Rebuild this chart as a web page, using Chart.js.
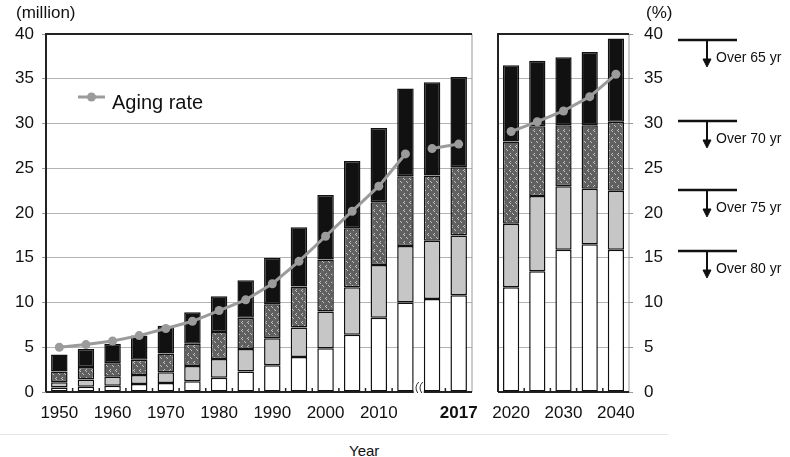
<!DOCTYPE html>
<html>
<head>
<meta charset="utf-8">
<script src="https://cdn.jsdelivr.net/npm/chart.js@4.4.1/dist/chart.umd.min.js"></script>
<style>
  body { margin: 0; background: #fff; font-family: "Liberation Sans", Arial, sans-serif; }
  #wrap { position: relative; width: 790px; height: 457px; overflow: hidden; }
  .box { position: absolute; }
  .txt { position: absolute; color: #111; white-space: nowrap; }
</style>
</head>
<body>
<div id="wrap">
  <div class="box" style="left:0;top:0;width:484px;height:440px"><canvas id="left"></canvas></div>
  <div class="box" style="left:484px;top:0;width:190px;height:440px"><canvas id="right"></canvas></div>
  <div class="txt" style="left:16px;top:3px;font-size:17px">(million)</div>
  <div class="txt" style="left:646px;top:3px;font-size:17px">(%)</div>
  <div style="position:absolute;left:0;top:434px;width:668px;height:1px;background:#e6e6e6"></div>
  <div class="txt" style="left:349px;top:442px;font-size:15px">Year</div>
  <svg style="position:absolute;left:670px;top:0" width="120" height="300">
    <g id="marks" stroke="#111" fill="#111"></g>
  </svg>
</div>
<script>
// past (million people, by age group) - the right hand part is projection
var years = ['1950','1955','1960','1965','1970','1975','1980','1985','1990','1995','2000','2005','2010','2015','2016','2017'];
var over80 = [0.5, 0.6, 0.7, 0.9, 1.0, 1.2, 1.6, 2.3, 3.0, 3.9, 4.9, 6.4, 8.3, 10.0, 10.4, 10.8];
var age75 = [0.6, 0.8, 1.0, 1.0, 1.2, 1.7, 2.1, 2.5, 3.0, 3.3, 4.1, 5.3, 5.9, 6.3, 6.5, 6.7];
var age70 = [1.2, 1.4, 1.5, 1.7, 2.1, 2.5, 3.0, 3.5, 3.8, 4.6, 5.8, 6.6, 7.0, 7.8, 7.3, 7.6];
var age65 = [1.9, 2.0, 2.2, 2.7, 3.1, 3.5, 4.0, 4.2, 5.2, 6.6, 7.2, 7.5, 8.3, 9.8, 10.4, 10.1];
var agingRate = [5.0, 5.3, 5.7, 6.3, 7.1, 7.9, 9.1, 10.3, 12.1, 14.6, 17.4, 20.2, 23.0, 26.6, 27.2, 27.7];

var yearsP = ['2020','2025','2030','2035','2040'];
var over80P = [11.7, 13.5, 15.9, 16.5, 15.9];
var age75P = [7.1, 8.4, 7.1, 6.2, 6.6];
var age70P = [9.2, 7.8, 6.8, 7.1, 7.7];
var age65P = [8.5, 7.3, 7.6, 8.2, 9.3];
var agingRateP = [29.1, 30.2, 31.4, 33.0, 35.5];

var yTicks = [0, 5, 10, 15, 20, 25, 30, 35, 40];
var groups = ['Over 65 yr', 'Over 70 yr', 'Over 75 yr', 'Over 80 yr'];
var groupPos = [40, 121, 190, 251];

var FONT = '"Liberation Sans", Arial, sans-serif';

function dotPattern(ctx) {
  var c = document.createElement('canvas');
  c.width = 6; c.height = 8;
  var g = c.getContext('2d');
  g.fillStyle = '#606060';
  g.fillRect(0, 0, 6, 8);
  g.fillStyle = '#c4c4c4';
  g.fillRect(2, 1, 1, 1); g.fillRect(1, 2, 1, 1); g.fillRect(2, 3, 1, 1);
  g.fillRect(4, 5, 1, 1); g.fillRect(5, 6, 1, 1);
  return ctx.createPattern(c, 'repeat');
}

function barSet(label, data, color) {
  return {
    type: 'bar', label: label, data: data, backgroundColor: color,
    borderColor: '#111', borderWidth: 1.5, borderSkipped: false,
    barPercentage: 0.62, categoryPercentage: 1, order: 1
  };
}

function lineSet(data, gapAt) {
  return {
    type: 'line', label: 'Aging rate', data: data,
    borderColor: '#9b9b9b', borderWidth: 3, pointRadius: 4.5,
    pointBackgroundColor: '#9b9b9b', pointBorderWidth: 0, order: 0,
    segment: { borderColor: function(c) { return c.p0DataIndex === gapAt ? 'rgba(0,0,0,0)' : undefined; } }
  };
}

// frame, inner ticks, break mark and legend
function framePlugin(side) {
  return {
    id: 'frame',
    beforeDatasetsDraw: function(chart) {
      var a = chart.chartArea, ctx = chart.ctx, x = chart.scales.x;
      ctx.save();
      ctx.strokeStyle = '#999'; ctx.lineWidth = 1;
      ctx.beginPath(); ctx.moveTo(a.right, a.top); ctx.lineTo(a.right, a.bottom); ctx.stroke();
      ctx.strokeStyle = '#222'; ctx.lineWidth = 2;
      ctx.beginPath();
      ctx.moveTo(a.left, a.bottom); ctx.lineTo(a.left, a.top); ctx.lineTo(a.right, a.top);
      ctx.moveTo(a.left, a.bottom); ctx.lineTo(a.right, a.bottom);
      ctx.stroke();
      ctx.lineWidth = 1.5;
      for (var i = 0; i < chart.data.labels.length - 1; i++) {
        var m = (x.getPixelForValue(i) + x.getPixelForValue(i + 1)) / 2;
        ctx.beginPath(); ctx.moveTo(m, a.bottom); ctx.lineTo(m, a.bottom - 4); ctx.stroke();
      }
      ctx.restore();
    },
    afterDraw: function(chart) {
      if (side !== 'left') return;
      var a = chart.chartArea, ctx = chart.ctx, x = chart.scales.x;
      ctx.save();
      var m = (x.getPixelForValue(13) + x.getPixelForValue(14)) / 2;
      ctx.fillStyle = '#fff';
      ctx.fillRect(m - 5, a.bottom - 9, 10, 10);
      ctx.strokeStyle = '#333'; ctx.lineWidth = 1;
      [-2, 2].forEach(function(d) {
        ctx.beginPath();
        ctx.moveTo(m + d + 2, a.bottom - 10);
        ctx.quadraticCurveTo(m + d - 3, a.bottom - 5, m + d + 1, a.bottom + 1);
        ctx.stroke();
      });
      // legend
      ctx.strokeStyle = '#9b9b9b'; ctx.lineWidth = 3;
      ctx.beginPath(); ctx.moveTo(78, 97); ctx.lineTo(105, 97); ctx.stroke();
      ctx.fillStyle = '#9b9b9b';
      ctx.beginPath(); ctx.arc(91.5, 97, 4.5, 0, Math.PI * 2); ctx.fill();
      ctx.fillStyle = '#111';
      ctx.font = '20px ' + FONT;
      ctx.textBaseline = 'middle';
      ctx.fillText('Aging rate', 112, 103);
      ctx.restore();
    }
  };
}

function makeChart(id, labels, d80, d75, d70, d65, rate, side) {
  var canvas = document.getElementById(id);
  var pat = dotPattern(canvas.getContext('2d'));
  return new Chart(canvas, {
    data: {
      labels: labels,
      datasets: [
        barSet('Over 80 yr', d80, '#ffffff'),
        barSet('75-79 yr', d75, '#c6c6c6'),
        barSet('70-74 yr', d70, pat),
        barSet('65-69 yr', d65, '#111111'),
        lineSet(rate, side === 'left' ? 13 : -1)
      ]
    },
    options: {
      responsive: true, maintainAspectRatio: false, animation: false,
      layout: { padding: side === 'left' ? { top: 34, right: 12, left: 0, bottom: 0 } : { top: 34, right: 0, left: 14, bottom: 0 } },
      plugins: { legend: { display: false }, tooltip: { enabled: false } },
      scales: {
        x: {
          stacked: true,
          grid: { display: false },
          border: { display: false },
          afterFit: function(s) { s.height = 48; },
          ticks: {
            autoSkip: false, maxRotation: 0, padding: 3, color: '#111',
            font: function(c) {
              var l = c.tick && c.tick.label;
              return { family: FONT, size: 17, weight: l === '2017' ? 'bold' : 'normal' };
            },
            callback: function(v, i) {
              var l = this.getLabelForValue(v);
              if (l === '2017') return l;
              return (+l % 10 === 0) ? l : '';
            }
          }
        },
        y: {
          stacked: true, min: 0, max: 40,
          position: side === 'left' ? 'left' : 'right',
          afterFit: function(s) { s.width = side === 'left' ? 46 : 45; },
          afterBuildTicks: function(s) { s.ticks = yTicks.map(function(v) { return { value: v }; }); },
          border: { display: false },
          grid: {
            color: function(c) { return (c.tick.value === 0 || c.tick.value === 40) ? 'rgba(0,0,0,0)' : '#b4b4b4'; },
            tickColor: '#999', tickLength: 4, lineWidth: 1
          },
          ticks: { color: '#111', padding: side === 'left' ? 8 : 11, font: { family: FONT, size: 17 } }
        }
      }
    },
    plugins: [framePlugin(side)]
  });
}

makeChart('left', years, over80, age75, age70, age65, agingRate, 'left');
makeChart('right', yearsP, over80P, age75P, age70P, age65P, agingRateP, 'right');

// age group markers at the right side
var svgNS = 'http://www.w3.org/2000/svg';
var g = document.getElementById('marks');
groups.forEach(function(name, i) {
  var y = groupPos[i];
  var h = document.createElementNS(svgNS, 'line');
  h.setAttribute('x1', 8); h.setAttribute('x2', 67); h.setAttribute('y1', y); h.setAttribute('y2', y);
  h.setAttribute('stroke-width', 2.5);
  g.appendChild(h);
  var v = document.createElementNS(svgNS, 'line');
  v.setAttribute('x1', 37); v.setAttribute('x2', 37); v.setAttribute('y1', y); v.setAttribute('y2', y + 20);
  v.setAttribute('stroke-width', 2);
  g.appendChild(v);
  var p = document.createElementNS(svgNS, 'polygon');
  p.setAttribute('points', '33,' + (y + 19) + ' 41,' + (y + 19) + ' 37,' + (y + 27));
  g.appendChild(p);
  var t = document.createElementNS(svgNS, 'text');
  t.setAttribute('x', 46); t.setAttribute('y', y + 22);
  t.setAttribute('stroke', 'none');
  t.setAttribute('font-size', '14');
  t.setAttribute('font-family', FONT.replace(/"/g, ''));
  t.textContent = name;
  g.appendChild(t);
});
</script>
</body>
</html>
